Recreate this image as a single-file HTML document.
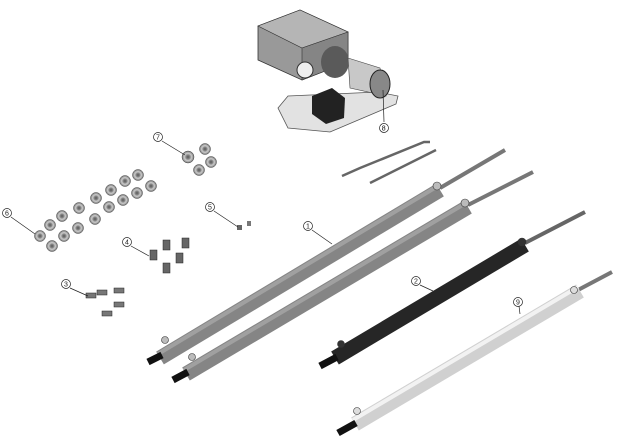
<!DOCTYPE html>
<html><head><style>
html,body{margin:0;padding:0;background:#fff;}
svg{display:block;}
text{font-family:"Liberation Sans",sans-serif;font-size:7px;}
</style></head><body>
<svg width="618" height="439" viewBox="0 0 618 439" xmlns="http://www.w3.org/2000/svg">
<defs>
<linearGradient id="gw" x1="0" y1="0" x2="0" y2="1"><stop offset="0" stop-color="#fafafa"/><stop offset="0.5" stop-color="#d8d8d8"/><stop offset="1" stop-color="#a0a0a0"/></linearGradient>
<radialGradient id="nut"><stop offset="0" stop-color="#555"/><stop offset="0.35" stop-color="#888"/><stop offset="0.6" stop-color="#ccc"/><stop offset="1" stop-color="#777"/></radialGradient>
</defs>
<!-- motor assembly -->
<polygon points="278,108 288,96 378,92 398,96 396,104 330,132 288,128" fill="#e2e2e2" stroke="#555" stroke-width="0.8"/>
<polygon points="258,26 300,10 348,32 348,62 302,80 258,60" fill="#999" stroke="#333" stroke-width="0.8"/>
<polygon points="258,26 300,10 348,32 302,48" fill="#b5b5b5" stroke="#333" stroke-width="0.6"/>
<polygon points="302,48 348,32 348,62 302,80" fill="#858585" stroke="#333" stroke-width="0.6"/>
<circle cx="305" cy="70" r="8" fill="#eee" stroke="#333"/>
<ellipse cx="335" cy="62" rx="14" ry="16" fill="#5a5a5a"/>
<polygon points="348,58 380,68 386,96 350,88" fill="#c8c8c8" stroke="#444" stroke-width="0.6"/>
<ellipse cx="380" cy="84" rx="10" ry="14" fill="#888" stroke="#222"/>
<polygon points="312,96 332,88 345,98 344,118 326,124 312,114" fill="#222"/>
<line x1="383" y1="90" x2="384" y2="122" stroke="#222" stroke-width="0.7"/>
<circle cx="384" cy="128" r="4.5" fill="#fff" stroke="#222" stroke-width="0.7"/><text x="381.8" y="130.5">8</text>
<!-- rods -->
<path d="M342,176 L360,168 L424,142 L430,142" fill="none" stroke="#666" stroke-width="2.5"/>
<path d="M370,183 L436,150" fill="none" stroke="#666" stroke-width="2.5"/>
<!-- cylinders -->
<g stroke-linecap="butt">
<line x1="440" y1="188" x2="505" y2="150" stroke="#777" stroke-width="4"/>
<line x1="160" y1="358" x2="440" y2="190" stroke="#858585" stroke-width="15"/>
<line x1="160" y1="358" x2="440" y2="190" stroke="#a0a0a0" stroke-width="4" transform="translate(-2,-4)"/>
<line x1="148" y1="362" x2="162" y2="355" stroke="#111" stroke-width="7"/>
<line x1="468" y1="205" x2="533" y2="172" stroke="#777" stroke-width="4"/>
<line x1="186" y1="374" x2="468" y2="207" stroke="#858585" stroke-width="15"/>
<line x1="186" y1="374" x2="468" y2="207" stroke="#a0a0a0" stroke-width="4" transform="translate(-2,-4)"/>
<line x1="173" y1="380" x2="188" y2="372" stroke="#111" stroke-width="7"/>
<line x1="525" y1="243" x2="585" y2="212" stroke="#666" stroke-width="4"/>
<line x1="335" y1="358" x2="525" y2="245" stroke="#262626" stroke-width="15"/>
<line x1="320" y1="366" x2="337" y2="357" stroke="#111" stroke-width="7"/>
<line x1="578" y1="290" x2="612" y2="272" stroke="#777" stroke-width="4"/>
<line x1="355" y1="424" x2="580" y2="291" stroke="#d0d0d0" stroke-width="15"/>
<line x1="355" y1="424" x2="580" y2="291" stroke="#f2f2f2" stroke-width="4" transform="translate(-2,-4)"/>
<line x1="338" y1="433" x2="356" y2="423" stroke="#111" stroke-width="7"/>
</g>
<g fill="#bbb" stroke="#333" stroke-width="0.6">
<circle cx="437" cy="186" r="4"/><circle cx="465" cy="203" r="4"/><circle cx="522" cy="242" r="4" fill="#333"/><circle cx="574" cy="290" r="3.5" fill="#ddd"/>
<circle cx="165" cy="340" r="3.5"/><circle cx="192" cy="357" r="3.5"/><circle cx="341" cy="344" r="3.5" fill="#333"/><circle cx="357" cy="411" r="3.5" fill="#ddd"/>
</g>
<!-- nuts 6 -->
<g fill="url(#nut)" stroke="#444" stroke-width="0.5">
<circle cx="40" cy="236" r="5.5"/><circle cx="52" cy="246" r="5.5"/><circle cx="50" cy="225" r="5.5"/><circle cx="64" cy="236" r="5.5"/>
<circle cx="62" cy="216" r="5.5"/><circle cx="78" cy="228" r="5.5"/><circle cx="79" cy="208" r="5.5"/><circle cx="95" cy="219" r="5.5"/>
<circle cx="96" cy="198" r="5.5"/><circle cx="109" cy="207" r="5.5"/><circle cx="111" cy="190" r="5.5"/><circle cx="123" cy="200" r="5.5"/>
<circle cx="125" cy="181" r="5.5"/><circle cx="137" cy="193" r="5.5"/><circle cx="138" cy="175" r="5.5"/><circle cx="151" cy="186" r="5.5"/>
<circle cx="188" cy="157" r="6"/><circle cx="205" cy="149" r="5.5"/><circle cx="211" cy="162" r="5.5"/><circle cx="199" cy="170" r="5.5"/>
</g>
<rect x="237" y="225" width="5" height="5" fill="#666"/><rect x="247" y="221" width="4" height="5" fill="#777"/>
<g fill="#666" stroke="#222" stroke-width="0.5">
<rect x="150" y="250" width="7" height="10"/><rect x="163" y="240" width="7" height="10"/><rect x="182" y="238" width="7" height="10"/>
<rect x="176" y="253" width="7" height="10"/><rect x="163" y="263" width="7" height="10"/>
</g>
<g fill="#777" stroke="#222" stroke-width="0.5">
<rect x="86" y="293" width="10" height="5"/><rect x="97" y="290" width="10" height="5"/><rect x="114" y="288" width="10" height="5"/>
<rect x="114" y="302" width="10" height="5"/><rect x="102" y="311" width="10" height="5"/>
</g>
<g stroke="#222" stroke-width="0.7" fill="none">
<line x1="312" y1="230" x2="332" y2="244"/><line x1="420" y1="285" x2="433" y2="291"/><line x1="519" y1="306" x2="520" y2="314"/>
<line x1="162" y1="141" x2="185" y2="155"/><line x1="11" y1="217" x2="35" y2="234"/><line x1="214" y1="211" x2="238" y2="227"/>
<line x1="131" y1="246" x2="149" y2="256"/><line x1="70" y1="288" x2="88" y2="296"/>
</g>
<g fill="#fff" stroke="#222" stroke-width="0.7">
<circle cx="308" cy="226" r="4.5"/><circle cx="416" cy="281" r="4.5"/><circle cx="518" cy="302" r="4.5"/>
<circle cx="158" cy="137" r="4.5"/><circle cx="7" cy="213" r="4.5"/><circle cx="210" cy="207" r="4.5"/>
<circle cx="127" cy="242" r="4.5"/><circle cx="66" cy="284" r="4.5"/>
</g>
<g fill="#222">
<text x="306" y="228.5">1</text><text x="414" y="283.5">2</text><text x="516" y="304.5">9</text>
<text x="156" y="139.5">7</text><text x="5" y="215.5">6</text><text x="208" y="209.5">5</text>
<text x="125" y="244.5">4</text><text x="64" y="286.5">3</text>
</g>
</svg>
</body></html>
